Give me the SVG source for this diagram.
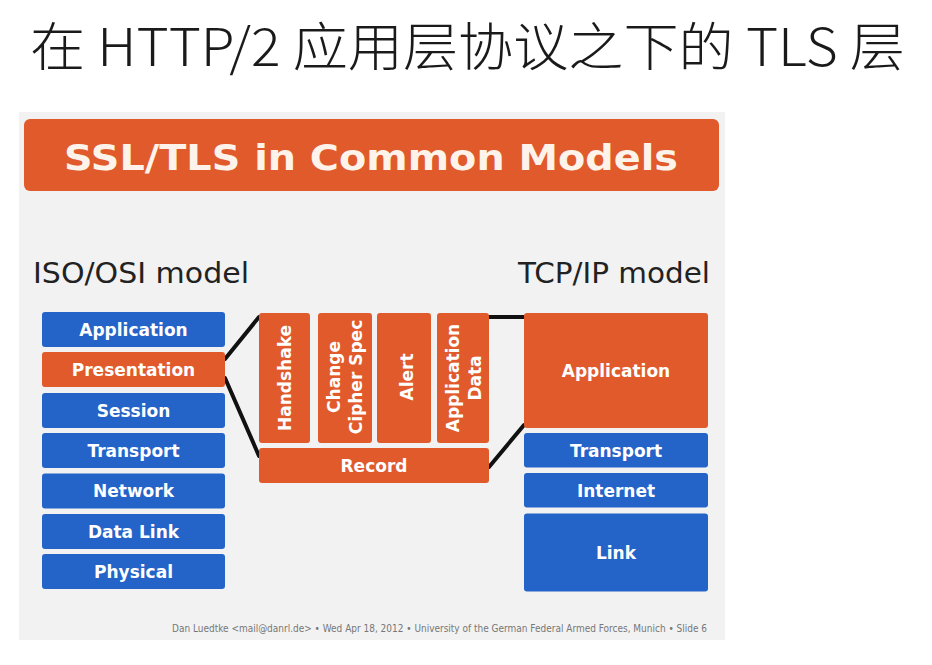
<svg xmlns="http://www.w3.org/2000/svg" width="932" height="665" viewBox="0 0 932 665">
<style>
.o{fill:#e05a2b}
.b{fill:#2463c8}
.bt{font-family:"DejaVu Sans",Verdana,sans-serif;font-weight:bold;font-size:17px;fill:#ffffff;text-anchor:middle;dominant-baseline:central}
.lbl{font-family:"DejaVu Sans",Verdana,sans-serif;font-size:29px;fill:#222222}
.ln{stroke:#111111;stroke-width:4;fill:none;stroke-linecap:round}
</style>
<rect x="0" y="0" width="932" height="665" fill="#ffffff"/>
<text x="30" y="66" font-family="'Noto Sans CJK SC',sans-serif" font-weight="300" font-size="52" fill="#1a1a1a" textLength="875" lengthAdjust="spacingAndGlyphs">在 HTTP/2 应用层协议之下的 TLS 层</text>
<rect x="19" y="112" width="706" height="528" fill="#f2f2f2"/>
<g id="header">
<rect class="o" x="24" y="119" width="695" height="72" rx="6"/>
<text x="371" y="158" font-family="'DejaVu Sans',Verdana,sans-serif" font-weight="bold" font-size="35" fill="#fdf3ea" text-anchor="middle" dominant-baseline="central" textLength="614" lengthAdjust="spacingAndGlyphs">SSL/TLS in Common Models</text>
</g>
<text class="lbl" x="33" y="283" textLength="216" lengthAdjust="spacingAndGlyphs">ISO/OSI model</text>
<text class="lbl" x="518" y="283" textLength="192" lengthAdjust="spacingAndGlyphs">TCP/IP model</text>
<g id="connectors">
<line class="ln" x1="225" y1="359" x2="259" y2="317"/>
<line class="ln" x1="225" y1="378" x2="259" y2="456"/>
<line class="ln" x1="489" y1="317" x2="524" y2="317"/>
<line class="ln" x1="489" y1="467" x2="524" y2="425"/>
</g>
<g id="osi-application"><rect class="b" x="42" y="312" width="183" height="35" rx="3"/><text class="bt" x="133.5" y="329.5">Application</text></g>
<g id="osi-presentation"><rect class="o" x="42" y="352" width="183" height="35" rx="3"/><text class="bt" x="133.5" y="369.5">Presentation</text></g>
<g id="osi-session"><rect class="b" x="42" y="393" width="183" height="35" rx="3"/><text class="bt" x="133.5" y="410.5">Session</text></g>
<g id="osi-transport"><rect class="b" x="42" y="433" width="183" height="35" rx="3"/><text class="bt" x="133.5" y="450.5">Transport</text></g>
<g id="osi-network"><rect class="b" x="42" y="473.5" width="183" height="35" rx="3"/><text class="bt" x="133.5" y="491">Network</text></g>
<g id="osi-datalink"><rect class="b" x="42" y="514" width="183" height="35" rx="3"/><text class="bt" x="133.5" y="531.5">Data Link</text></g>
<g id="osi-physical"><rect class="b" x="42" y="554" width="183" height="35" rx="3"/><text class="bt" x="133.5" y="571.5">Physical</text></g>
<g id="tls-handshake"><rect class="o" x="259" y="313" width="51" height="130" rx="3"/><text class="bt" transform="translate(284.5,378) rotate(-90)">Handshake</text></g>
<g id="tls-ccs"><rect class="o" x="318" y="313" width="54" height="130" rx="3"/><text class="bt" transform="translate(345,377) rotate(-90)"><tspan x="0" y="-11">Change</tspan><tspan x="0" y="11">Cipher Spec</tspan></text></g>
<g id="tls-alert"><rect class="o" x="377" y="313" width="54" height="130" rx="3"/><text class="bt" transform="translate(406.5,377) rotate(-90)">Alert</text></g>
<g id="tls-appdata"><rect class="o" x="437" y="313" width="52" height="130" rx="3"/><text class="bt" transform="translate(464,378) rotate(-90)"><tspan x="0" y="-11">Application</tspan><tspan x="0" y="11">Data</tspan></text></g>
<g id="tls-record"><rect class="o" x="259" y="448" width="230" height="35" rx="3"/><text class="bt" x="374" y="466">Record</text></g>
<g id="tcp-application"><rect class="o" x="524" y="313" width="184" height="115" rx="3"/><text class="bt" x="616" y="371">Application</text></g>
<g id="tcp-transport"><rect class="b" x="524" y="433" width="184" height="34.5" rx="3"/><text class="bt" x="616" y="450.5">Transport</text></g>
<g id="tcp-internet"><rect class="b" x="524" y="473" width="184" height="34.5" rx="3"/><text class="bt" x="616" y="490.5">Internet</text></g>
<g id="tcp-link"><rect class="b" x="524" y="513.5" width="184" height="78" rx="3"/><text class="bt" x="616" y="552.5">Link</text></g>
<text x="172" y="632" font-family="'DejaVu Sans',Verdana,sans-serif" font-size="10" fill="#777777" textLength="535" lengthAdjust="spacingAndGlyphs">Dan Luedtke &lt;mail@danrl.de&gt; • Wed Apr 18, 2012 • University of the German Federal Armed Forces, Munich • Slide 6</text>
</svg>
